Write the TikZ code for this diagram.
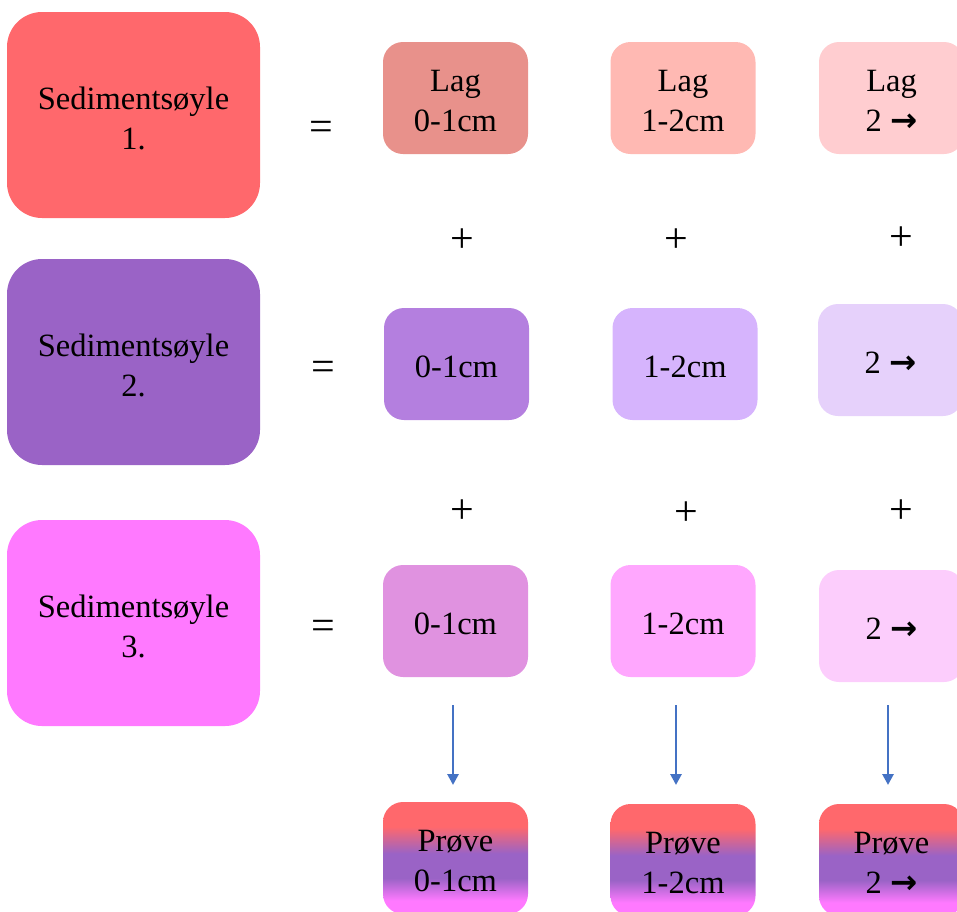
\documentclass[tikz,border=0pt]{standalone}
\usepackage{fontspec}
\setmainfont{Liberation Serif}
\newfontfamily\arrowfont{DejaVu Sans}
\usetikzlibrary{arrows.meta}
\definecolor{sA}{HTML}{FF686C}
\definecolor{sB}{HTML}{9A63C6}
\definecolor{sC}{HTML}{FF79FF}
\definecolor{aA}{HTML}{E8918B}
\definecolor{aB}{HTML}{FFB9B3}
\definecolor{aC}{HTML}{FFCDD0}
\definecolor{bA}{HTML}{B47FDF}
\definecolor{bB}{HTML}{D6B4FD}
\definecolor{bC}{HTML}{E6D1FB}
\definecolor{cA}{HTML}{E092E0}
\definecolor{cB}{HTML}{FFA7FE}
\definecolor{cC}{HTML}{FCCDFC}
\definecolor{arr}{HTML}{4472C4}
\pgfdeclareverticalshading{proveshade}{100bp}{rgb(0bp)=(1,0.475,1); rgb(31bp)=(1,0.475,1); rgb(41bp)=(0.604,0.388,0.776); rgb(52bp)=(0.604,0.388,0.776); rgb(64bp)=(1,0.408,0.424); rgb(100bp)=(1,0.408,0.424)}
\newcommand{\ar}{{\arrowfont\bfseries →}}
\tikzset{
  x=1pt, y=-1pt,
  txt/.style={font=\fontsize{32.5}{40}\selectfont, align=center, text=black, inner sep=0pt, yshift=-3pt},
  bigbox/.style={rounded corners=35pt, minimum width=253pt, minimum height=206pt, inner sep=0pt},
  smallbox/.style={rounded corners=20pt, minimum width=145pt, minimum height=112pt, inner sep=0pt},
  sym/.style={font=\fontsize{42}{48}\selectfont, inner sep=0pt},
  flow/.style={draw=arr, line width=2.8pt, -{Triangle[length=11pt,width=11pt]}}
}
\begin{document}
\begin{tikzpicture}
\useasboundingbox (0,0) rectangle (957,911);
\clip (0,0) rectangle (957,911);
% big boxes
\node[bigbox, fill=sA] (s1) at (133.5,115) {};
\node[bigbox, fill=sB] (s2) at (133.5,362) {};
\node[bigbox, fill=sC] (s3) at (133.5,623) {};
\node[txt] (s1t) at (s1.center) {Sedimentsøyle\\1.};
\node[txt] (s2t) at (s2.center) {Sedimentsøyle\\2.};
\node[txt] (s3t) at (s3.center) {Sedimentsøyle\\3.};
% equals signs
\node[sym] (e1) at (321,131) {=};
\node[sym] (e2) at (323,371) {=};
\node[sym] (e3) at (323,630) {=};
% row 1
\node[smallbox, fill=aA] (a1) at (455.5,98) {};
\node[smallbox, fill=aB] (a2) at (683,98) {};
\node[smallbox, fill=aC] (a3) at (891.5,98) {};
\node[txt] (a1t) at (a1.center) {Lag\\0-1cm};
\node[txt] (a2t) at (a2.center) {Lag\\1-2cm};
\node[txt] (a3t) at (a3.center) {Lag\\2 \ar};
% plus row 1
\node[sym] (p11) at (462,241) {+};
\node[sym] (p12) at (676,241) {+};
\node[sym] (p13) at (901,239) {+};
% row 2
\node[smallbox, fill=bA] (b1) at (456.5,364) {};
\node[smallbox, fill=bB] (b2) at (685,364) {};
\node[smallbox, fill=bC] (b3) at (890.5,360) {};
\node[txt] (b1t) at (b1.center) {0-1cm};
\node[txt] (b2t) at (b2.center) {1-2cm};
\node[txt] (b3t) at (b3.center) {2 \ar};
% plus row 2
\node[sym] (p21) at (462,512) {+};
\node[sym] (p22) at (686,514) {+};
\node[sym] (p23) at (901,512) {+};
% row 3
\node[smallbox, fill=cA] (c1) at (455.5,621) {};
\node[smallbox, fill=cB] (c2) at (683,621) {};
\node[smallbox, fill=cC] (c3) at (891.5,626) {};
\node[txt] (c1t) at (c1.center) {0-1cm};
\node[txt] (c2t) at (c2.center) {1-2cm};
\node[txt] (c3t) at (c3.center) {2 \ar};
% samples
\node[smallbox, shading=proveshade] (d1) at (455.5,858) {};
\node[smallbox, shading=proveshade] (d2) at (683,860) {};
\node[smallbox, shading=proveshade] (d3) at (891.5,860) {};
\node[txt] (d1t) at (d1.center) {Prøve\\0-1cm};
\node[txt] (d2t) at (d2.center) {Prøve\\1-2cm};
\node[txt] (d3t) at (d3.center) {Prøve\\2 \ar};
% arrows
\coordinate (t1) at (453,705); \coordinate (h1) at (453,785);
\coordinate (t2) at (676,705); \coordinate (h2) at (676,785);
\coordinate (t3) at (888,705); \coordinate (h3) at (888,785);
\draw[flow] (t1) -- (h1);
\draw[flow] (t2) -- (h2);
\draw[flow] (t3) -- (h3);
\end{tikzpicture}
\end{document}
